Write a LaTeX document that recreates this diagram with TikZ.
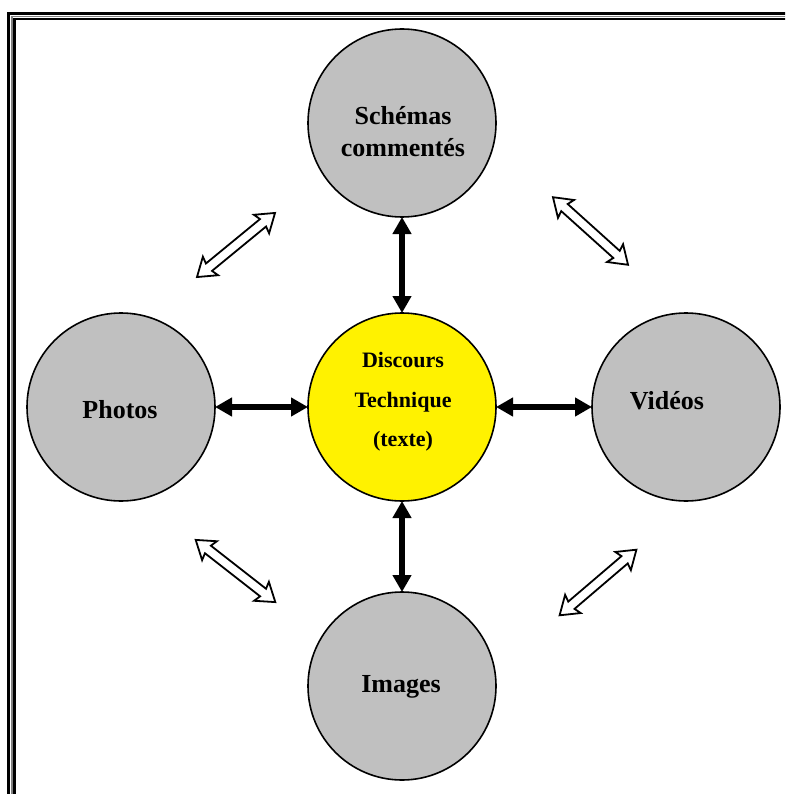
\documentclass[tikz,border=0pt]{standalone}
\usepackage{fontspec}
\setmainfont{Liberation Serif}
\usetikzlibrary{arrows.meta}
\definecolor{circgray}{HTML}{C0C0C0}
\definecolor{midgray}{HTML}{808080}
\newcommand\hollowdbl[3]{%
  \begin{scope}[shift={(#1,#2)},rotate=#3]
    \draw[hollow] (-50.5,0) -- (-33,12) -- (-35,4.8) -- (35,4.8) -- (33,12) -- (50.5,0)
      -- (33,-12) -- (35,-4.8) -- (-35,-4.8) -- (-33,-12) -- cycle;
  \end{scope}}
\begin{document}
\begin{tikzpicture}[x=1pt,y=-1pt,
  bubble/.style={circle,draw=black,line width=1.6pt,minimum size=188pt,inner sep=0pt,outer sep=0pt,fill=circgray},
  lbl/.style={font=\fontsize{26}{32}\selectfont\bfseries,align=center,inner sep=0pt},
  clbl/.style={font=\fontsize{22}{39.5}\selectfont\bfseries,align=center,inner sep=0pt},
  bigarrow/.style={line width=6pt,{Triangle[width=18pt,length=17pt]}-{Triangle[width=18pt,length=17pt]}},
  hollow/.style={draw=black,line width=1.8pt,fill=white,line join=miter}]
\useasboundingbox (0,0) rectangle (785,794);
\clip (0,0) rectangle (785,794);
% frame
\draw[line width=2.7pt] (8.7,13.3) rectangle (800,810);
\draw[midgray,line width=1.6pt] (11.9,16.5) rectangle (797,807);
\draw[line width=2.4pt] (14.4,18.8) rectangle (794,804);
% circles
\node[bubble] (top) at (402,123) {};
\node[bubble,fill=yellow] (ctr) at (402,407) {};
\node[bubble] (left) at (121,407) {};
\node[bubble] (right) at (686,407) {};
\node[bubble] (bot) at (402,686) {};
% labels
\node[lbl] (ttop) at (403,132) {Schémas\\commentés};
\node[clbl] (tctr) at (403,402) {Discours\\Technique\\(texte)};
\node[lbl] (tleft) at (120,410) {Photos};
\node[lbl] (tright) at (667,401) {Vidéos};
\node[lbl] (tbot) at (401,687) {Images};
% black double arrows
\draw[bigarrow] (top) -- (ctr);
\draw[bigarrow] (ctr) -- (bot);
\draw[bigarrow] (left) -- (ctr);
\draw[bigarrow] (ctr) -- (right);
% hollow double arrows
\hollowdbl{236}{245}{39.4}
\hollowdbl{590.5}{231}{-42}
\hollowdbl{235.5}{571}{-38}
\hollowdbl{598}{582.5}{40.5}
\end{tikzpicture}
\end{document}
